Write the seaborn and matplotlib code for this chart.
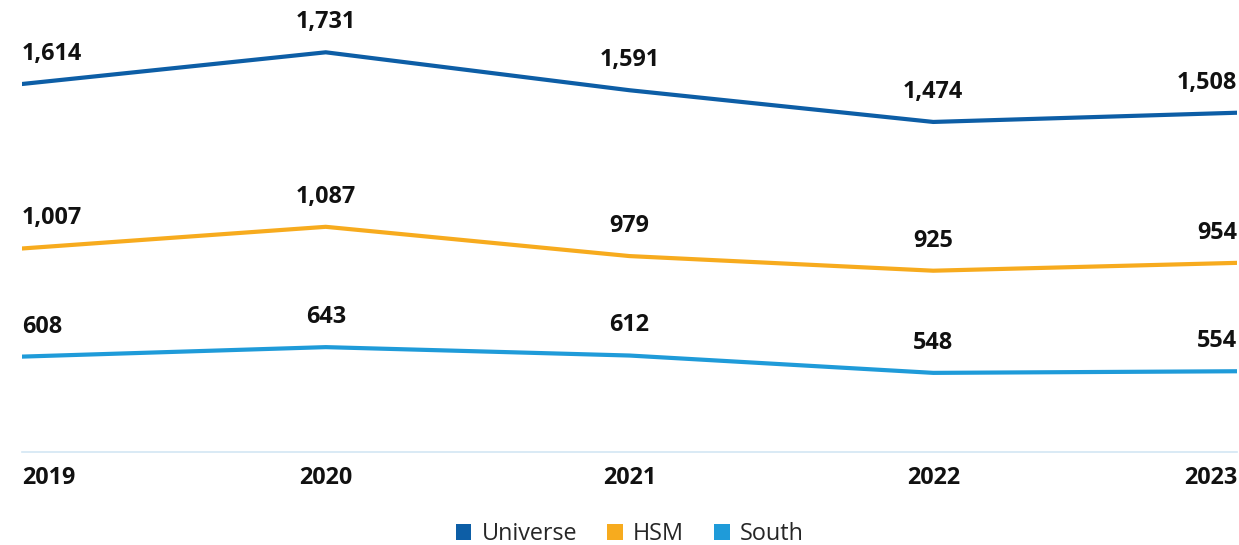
import matplotlib
matplotlib.use("Agg")
import matplotlib.pyplot as plt
from matplotlib.patches import Patch
import pandas as pd
import seaborn as sns

years = ["2019", "2020", "2021", "2022", "2023"]
universe = [1614, 1731, 1591, 1474, 1508]
hsm = [1007, 1087, 979, 925, 954]
south = [608, 643, 612, 548, 554]

series_names = ["Universe", "HSM", "South"]
series_values = [universe, hsm, south]
colors = ["#0d5ea6", "#f7ab1e", "#1f9bd9"]

rows = []
for name, vals in zip(series_names, series_values):
    for i, (yr, v) in enumerate(zip(years, vals)):
        rows.append({"pos": i, "year": yr, "series": name, "value": v})
df = pd.DataFrame(rows)

sns.set_theme(style="white")
plt.rcParams["font.family"] = ["Open Sans", "DejaVu Sans"]

fig = plt.figure(figsize=(12.39, 5.45), dpi=100)
ax = fig.add_axes([22 / 1239, 1 - 452 / 545, (1237 - 22) / 1239, 452 / 545])

sns.lineplot(data=df, x="pos", y="value", hue="series", hue_order=series_names,
             palette=colors, linewidth=3.0, ax=ax, legend=False,
             solid_capstyle="round", solid_joinstyle="round")

ax.set_xlim(0, len(years) - 1)
ax.set_ylim(256, 1924)
ax.set_xlabel("")
ax.set_ylabel("")
ax.set_yticks([])
ax.set_xticks(range(len(years)))
ax.set_xticklabels(years, fontsize=16.8, fontweight="bold", color="#111111")
ax.tick_params(axis="x", length=0, pad=10)
tl = ax.get_xticklabels()
tl[0].set_ha("left")
tl[-1].set_ha("right")

for side in ["top", "right", "left"]:
    ax.spines[side].set_visible(False)
ax.spines["bottom"].set_color("#d3e6f4")
ax.spines["bottom"].set_linestyle((0, (1, 1)))
ax.spines["bottom"].set_linewidth(1.2)

# value labels above each point
for name, vals in zip(series_names, series_values):
    for i, v in enumerate(vals):
        ha = "left" if i == 0 else ("right" if i == len(vals) - 1 else "center")
        ax.annotate(f"{v:,}", xy=(i, v), xytext=(0, 13), textcoords="offset points",
                    ha=ha, va="bottom", fontsize=16.8, fontweight="bold",
                    color="#111111", annotation_clip=False)

handles = [Patch(facecolor=c, edgecolor="none", label=n) for n, c in zip(series_names, colors)]
fig.legend(handles=handles, loc="center", bbox_to_anchor=(630 / 1239, 11 / 545),
           ncol=3, frameon=False, fontsize=16.8, handlelength=0.65, handleheight=0.65,
           handletextpad=0.45, columnspacing=1.3, borderpad=0.1)

fig.savefig("out.png", dpi=100)
